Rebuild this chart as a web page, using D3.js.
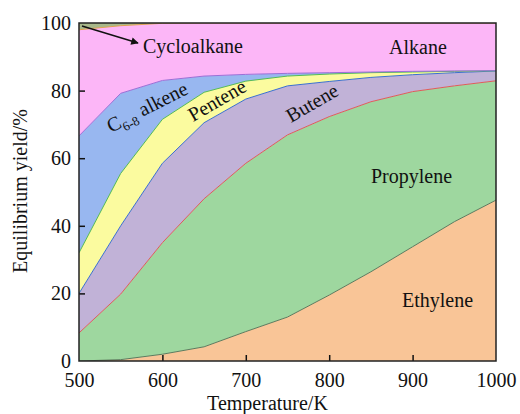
<!DOCTYPE html>
<html>
<head>
<meta charset="utf-8">
<script src="https://cdn.jsdelivr.net/npm/d3@7"></script>
<style>
  body { margin: 0; background: #fff; }
</style>
</head>
<body>
<div id="chart"></div>
<script>
// temperatures (K) and yields (%) of each product
const temps = [500, 550, 600, 650, 700, 750, 800, 850, 900, 950, 1000];
const ethylene    = [0, 0.4, 2, 4.2, 8.7, 13, 19.5, 26.4, 33.8, 41.2, 47.6];
const propylene   = [8.3, 19.4, 33, 43.8, 49.8, 53.9, 52.8, 50.3, 45.9, 40.2, 35.3];
const butene      = [11.7, 20.2, 23.5, 22.5, 19, 14.5, 10.4, 7.2, 5.0, 3.9, 2.9];
const pentene     = [12, 15.5, 13, 9, 5.3, 2.9, 2.2, 1.4, 0.8, 0.4, 0.05];
const c68alkene   = [34.6, 23.7, 11.5, 4.8, 2.0, 0.8, 0.4, 0.2, 0.2, 0.1, 0.05];
const alkane      = [31.4, 20, 16.9, 15.7, 15.2, 14.9, 14.7, 14.5, 14.3, 14.2, 14.1];
const cycloalkane = [2, 0.8, 0.1, 0, 0, 0, 0, 0, 0, 0, 0];
const xTicks = [500, 600, 700, 800, 900, 1000];
const yTicks = [0, 20, 40, 60, 80, 100];

const keys = ["ethylene", "propylene", "butene", "pentene", "c68", "alkane", "cyclo"];
const fills = ["#f9c597", "#9ed79f", "#c1b2d7", "#fbfb9f", "#98b7f0", "#fcb6f7", "#a8b88a"];
const lines = ["#5d7a5d", "#e05a5a", "#3a6fd0", "#55bb55", "#9b6fd6", "#e0a050", "none"];
const FONT = "'Liberation Serif', 'DejaVu Serif', serif";

const table = temps.map((t, i) => ({
  t: t,
  ethylene: ethylene[i], propylene: propylene[i], butene: butene[i],
  pentene: pentene[i], c68: c68alkene[i], alkane: alkane[i], cyclo: cycloalkane[i]
}));

const margin = {top: 23, right: 24, bottom: 53, left: 79},
    width = 520 - margin.left - margin.right,
    height = 414 - margin.top - margin.bottom;

const svg = d3.select("#chart")
  .append("svg")
    .attr("width", 520)
    .attr("height", 414)
  .append("g")
    .attr("transform", `translate(${margin.left}, ${margin.top})`);

const x = d3.scaleLinear().domain([500, 1000]).range([0, width]);
const y = d3.scaleLinear().domain([0, 100]).range([height, 0]);

const series = d3.stack().keys(keys)(table);

const area = d3.area()
  .x(d => x(d.data.t))
  .y0(d => y(d[0]))
  .y1(d => y(Math.min(d[1], 100)));

const topLine = d3.line()
  .x(d => x(d.data.t))
  .y(d => y(Math.min(d[1], 100)));

svg.append("defs").append("clipPath").attr("id", "clip")
  .append("rect").attr("width", width).attr("height", height);

const plot = svg.append("g").attr("clip-path", "url(#clip)");

plot.selectAll(".layer")
  .data(series)
  .enter()
  .append("path")
    .attr("class", "layer")
    .attr("d", area)
    .style("fill", (d, i) => fills[i]);

plot.selectAll(".edge")
  .data(series.filter((d, i) => lines[i] !== "none"))
  .enter()
  .append("path")
    .attr("class", "edge")
    .attr("d", topLine)
    .style("fill", "none")
    .style("stroke", (d, i) => lines[i])
    .style("stroke-width", 1);

// axes, ticks pointing inwards
const xAxis = svg.append("g")
  .attr("transform", `translate(0, ${height})`)
  .call(d3.axisBottom(x).tickValues(xTicks).tickSize(-6).tickPadding(8).tickFormat(d3.format("d")));
xAxis.selectAll("text").attr("dy", "0.9em");

const yAxis = svg.append("g")
  .call(d3.axisLeft(y).tickValues(yTicks).tickSize(-6).tickPadding(8));

svg.selectAll(".domain").remove();
svg.selectAll(".tick line").style("stroke", "#111").style("stroke-width", 1.5);
svg.selectAll(".tick").filter(d => d === 500 || d === 1000 || d === 0 || d === 100)
  .select("line").remove();

svg.append("rect")
  .attr("width", width).attr("height", height)
  .style("fill", "none").style("stroke", "#222").style("stroke-width", 1.5);

// axis titles
svg.append("text")
  .attr("x", width / 2 - 20).attr("y", height + 49)
  .attr("text-anchor", "middle")
  .text("Temperature/K");

svg.append("text")
  .attr("transform", `translate(${27 - margin.left}, ${168}) rotate(-90)`)
  .attr("text-anchor", "middle")
  .text("Equilibrium yield/%");

// series labels
const label = (txt, px, py, rot) => svg.append("text")
  .attr("transform", `translate(${px - margin.left}, ${py - margin.top}) rotate(${rot})`)
  .text(txt);

label("Cycloalkane", 143, 53, 0);
label("Alkane", 389, 54, 0);
label("Pentene", 193, 122, -30);
label("Butene", 291, 123, -30);
label("Propylene", 371, 183, 0);
label("Ethylene", 402, 307, 0);

const c68 = label("C", 111, 133, -27);
c68.append("tspan").attr("dy", 5).attr("class", "sub").text("6-8");
c68.append("tspan").attr("dy", -5).text(" alkene");

// one font for every text
d3.selectAll("svg text")
  .attr("font-family", null)
  .style("font-family", FONT)
  .style("font-size", "20px")
  .style("fill", "#111");
d3.selectAll("tspan.sub").style("font-size", "13px");

// arrow to the cycloalkane band
svg.append("defs").append("marker")
  .attr("id", "arrow").attr("viewBox", "0 0 10 10")
  .attr("refX", 9).attr("refY", 5)
  .attr("markerWidth", 7).attr("markerHeight", 5)
  .attr("orient", "auto")
  .append("path").attr("d", "M0,0L10,5L0,10z").style("fill", "#111");

svg.append("line")
  .attr("x1", 82 - margin.left).attr("y1", 26 - margin.top)
  .attr("x2", 138 - margin.left).attr("y2", 43 - margin.top)
  .style("stroke", "#111").style("stroke-width", 1.5)
  .attr("marker-end", "url(#arrow)");
</script>
</body>
</html>
